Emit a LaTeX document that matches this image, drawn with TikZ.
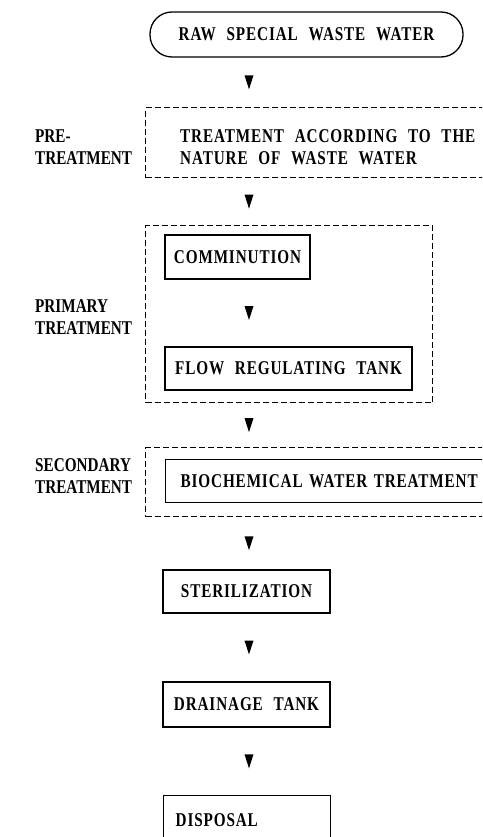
\documentclass[tikz,border=0pt]{standalone}
\usepackage{fontspec}
\usetikzlibrary{decorations.markings}
\newfontfamily\sidefont{Liberation Serif}[FakeStretch=0.78,WordSpace=1.8]
\newfontfamily\stepfont{Liberation Serif}[FakeStretch=0.78,WordSpace=2.3,LetterSpace=4.5]
\newcommand{\labelfont}{\sidefont\bfseries\fontsize{19.5}{21.5}\selectfont}
\newcommand{\boxfont}{\stepfont\bfseries\fontsize{19.5}{22}\selectfont}
\begin{document}
\begin{tikzpicture}[x=1pt,y=-1pt,
  lbl/.style={font=\labelfont, align=left, anchor=west, inner sep=0pt},
  txt/.style={font=\boxfont, align=left, anchor=west, inner sep=0pt},
  stepbox/.style={draw, line width=1.3pt, inner sep=0pt, font=\boxfont},
  groupbox/.style={draw, line width=1.2pt, dash pattern=on 6pt off 3pt, inner sep=0pt},
  flow/.style={postaction={decorate}, decoration={markings,
    mark=at position 0.5 with {\fill (7pt,0pt) -- (-7pt,4.5pt) -- (-7pt,-4.5pt) -- cycle;}}}
]
\useasboundingbox (0,0) rectangle (482,837);
\clip (0,0) rectangle (482,837);
\fill[white] (0,0) rectangle (482,837);

% source
\node[stepbox, rounded corners=22pt, minimum width=313pt, minimum height=45pt] (raw) at (306.5,34.5) {RAW SPECIAL WASTE WATER};

% pre-treatment stage
\node[groupbox, anchor=north west, minimum width=355pt, minimum height=70pt] (pre) at (145,107) {};
\node[txt] (pretext) at (180,147) {TREATMENT ACCORDING TO THE\\NATURE OF WASTE WATER};
\node[lbl] (prel) at (35,147) {PRE-\\TREATMENT};

% primary treatment stage
\node[groupbox, anchor=north west, minimum width=287pt, minimum height=177pt] (prim) at (145,225) {};
\node[stepbox, minimum width=145pt, minimum height=44pt] (comm) at (237.5,257) {COMMINUTION};
\node[stepbox, minimum width=247pt, minimum height=43pt] (flowt) at (288.5,368.5) {FLOW REGULATING TANK};
\node[lbl] (priml) at (35,317) {PRIMARY\\TREATMENT};

% secondary treatment stage
\node[groupbox, anchor=north west, minimum width=355pt, minimum height=69pt] (sec) at (145,447) {};
\node[stepbox, anchor=north west, minimum height=43pt, inner xsep=15pt, text width=340pt, align=left] (bio) at (165,459) {BIOCHEMICAL WATER TREATMENT};
\node[lbl] (secl) at (35,476) {SECONDARY\\TREATMENT};

% final steps
\node[stepbox, minimum width=167pt, minimum height=43pt] (ster) at (246.5,591.5) {STERILIZATION};
\node[stepbox, minimum width=167pt, minimum height=45pt] (drain) at (246.5,704.5) {DRAINAGE TANK};
\node[stepbox, anchor=north west, inner xsep=12pt, inner ysep=0pt, text width=143pt, align=left, text height=31pt, text depth=30pt] (disp) at (163,795) {DISPOSAL};

% flow markers along the centre line
\coordinate (ax) at (249,0);
\path[flow] (raw.south -| ax) -- (pre.north -| ax);
\path[flow] (pre.south -| ax) -- (prim.north -| ax);
\path[flow] (comm.south -| ax) -- (flowt.north -| ax);
\path[flow] (prim.south -| ax) -- (sec.north -| ax);
\path[flow] (sec.south -| ax) -- (ster.north -| ax);
\path[flow] (ster.south -| ax) -- (drain.north -| ax);
\path[flow] (drain.south -| ax) -- (disp.north -| ax);
\end{tikzpicture}
\end{document}
